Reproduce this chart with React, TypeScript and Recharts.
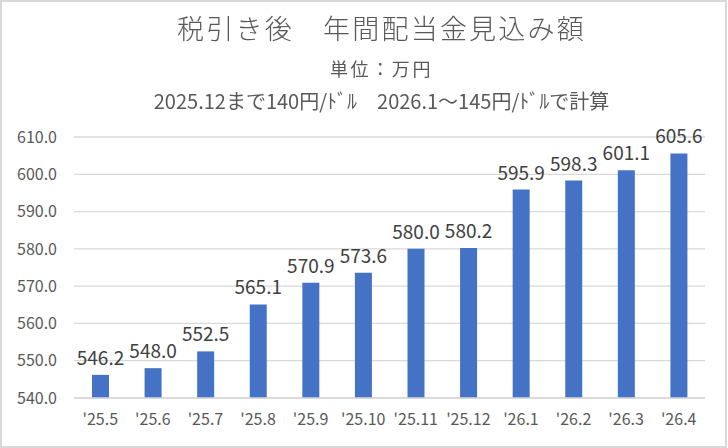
import * as React from "react";
import { BarChart, Bar, XAxis, YAxis, CartesianGrid, LabelList } from "recharts";

const months = ["'25.5", "'25.6", "'25.7", "'25.8", "'25.9", "'25.10", "'25.11", "'25.12", "'26.1", "'26.2", "'26.3", "'26.4"];
const amounts = [546.2, 548.0, 552.5, 565.1, 570.9, 573.6, 580.0, 580.2, 595.9, 598.3, 601.1, 605.6];
const yTicks = [540, 550, 560, 570, 580, 590, 600, 610];

const title = "税引き後　年間配当金見込み額";
const unitNote = "単位：万円";
const rateNote = "2025.12まで140円/ﾄﾞﾙ　2026.1～145円/ﾄﾞﾙで計算";

const data = months.map((m, i) => ({ month: m, value: amounts[i] }));

const FONT = "'Noto Sans CJK JP', 'Noto Sans', sans-serif";

export default function App() {
  return (
    <div
      style={{
        position: "fixed",
        left: 0,
        top: 0,
        width: 727,
        height: 448,
        boxSizing: "border-box",
        border: "2px solid #d9d9d9",
        background: "#fff",
        fontFamily: FONT,
      }}
    >
      <div style={{ position: "absolute", left: -2, top: -2, width: 727, height: 448 }}>
        <BarChart
          width={727}
          height={448}
          data={data}
          margin={{ top: 137, right: 22, left: 0, bottom: 20 }}
        >
          <CartesianGrid vertical={false} stroke="#d9d9d9" strokeWidth={1.3} />
          <XAxis
            dataKey="month"
            height={30}
            tickLine={false}
            axisLine={{ stroke: "#d9d9d9", strokeWidth: 1.3 }}
            tick={{ fill: "#595959", fontSize: 16, fontFamily: FONT }}
            tickMargin={10}
            interval={0}
          />
          <YAxis
            width={74}
            domain={[540, 610]}
            ticks={yTicks}
            axisLine={false}
            tickLine={false}
            tick={{ fill: "#595959", fontSize: 16, fontFamily: FONT }}
            tickMargin={11}
            tickFormatter={(v: number) => v.toFixed(1)}
          />
          <Bar dataKey="value" fill="#4472c4" barSize={17} isAnimationActive={false}>
            <LabelList
              dataKey="value"
              position="top"
              offset={10}
              fill="#404040"
              fontSize={19}
              fontFamily={FONT}
              formatter={(v: number) => v.toFixed(1)}
            />
          </Bar>
        </BarChart>
      </div>
      <div
        style={{
          position: "absolute",
          left: 16,
          width: 727,
          top: 8,
          textAlign: "center",
          fontSize: 27,
          fontWeight: 300,
          letterSpacing: 2.2,
          color: "#595959",
          lineHeight: "36px",
        }}
      >
        {title}
      </div>
      <div
        style={{
          position: "absolute",
          left: 16,
          width: 727,
          top: 54,
          textAlign: "center",
          fontSize: 18,
          letterSpacing: 2.6,
          color: "#595959",
          lineHeight: "24px",
        }}
      >
        {unitNote}
      </div>
      <div
        style={{
          position: "absolute",
          left: 16,
          width: 727,
          top: 86,
          textAlign: "center",
          fontSize: 20,
          color: "#595959",
          lineHeight: "26px",
        }}
      >
        {rateNote}
      </div>
    </div>
  );
}
